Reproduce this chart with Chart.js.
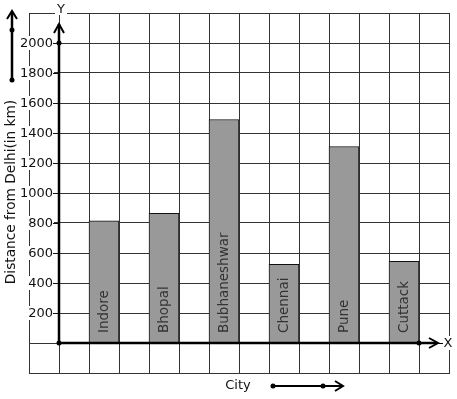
<!DOCTYPE html>
<html>
<head>
<meta charset="utf-8">
<script src="https://cdn.jsdelivr.net/npm/chart.js@4"></script>
<style>
  body { margin: 0; background: #fff; }
  #wrap { width: 457px; height: 399px; }
</style>
</head>
<body>
<div id="wrap"><canvas id="chart" width="457" height="399"></canvas></div>
<script>
const cities = ["Indore", "Bhopal", "Bubhaneshwar", "Chennai", "Pune", "Cuttack"];
const distances = [815, 865, 1490, 525, 1310, 545];
const yTicks = [200, 400, 600, 800, 1000, 1200, 1400, 1600, 1800, 2000];
const yTitle = "Distance from Delhi(in km)";
const xTitle = "City";

// 14 grid columns, a city in every second one starting at column 2
const slots = 14;
const labels = [];
const values = [];
for (let i = 0; i < slots; i++) {
  const k = (i - 2) / 2;
  if (i >= 2 && i % 2 === 0 && k < cities.length) {
    labels.push(cities[k]);
    values.push(distances[k]);
  } else {
    labels.push("");
    values.push(null);
  }
}

const FONT = "13px 'DejaVu Sans'";

function dot(ctx, x, y) {
  ctx.beginPath();
  ctx.arc(x, y, 2.5, 0, Math.PI * 2);
  ctx.fill();
}

// axes, arrows and labels drawn over the grid
const decorPlugin = {
  id: "decor",
  afterDatasetsDraw: (chart) => {
    const ctx = chart.ctx;
    const xs = chart.scales.x;
    const ys = chart.scales.y;
    const ax = Math.round((xs.getPixelForValue(0) + xs.getPixelForValue(1)) / 2);
    const ay = Math.round(ys.getPixelForValue(0));
    const area = chart.chartArea;

    ctx.save();

    // labels inside bars
    ctx.fillStyle = "#333";
    ctx.font = "13.5px 'DejaVu Sans'";
    ctx.textAlign = "left";
    ctx.textBaseline = "middle";
    cities.forEach((c, i) => {
      const x = xs.getPixelForValue(2 + i * 2);
      ctx.save();
      ctx.translate(x, ay - 10);
      ctx.rotate(-Math.PI / 2);
      ctx.fillText(c, 0, 0);
      ctx.restore();
    });

    // y tick labels with white backing
    ctx.font = FONT;
    ctx.textAlign = "right";
    ctx.textBaseline = "middle";
    yTicks.forEach((v) => {
      const y = Math.round(ys.getPixelForValue(v));
      const w = ctx.measureText(String(v)).width;
      ctx.fillStyle = "#fff";
      ctx.fillRect(53 - w - 1, y - 7, w + 2, 14);
      ctx.fillStyle = "#111";
      ctx.fillText(String(v), 53, y + 1);
      ctx.strokeStyle = "#111";
      ctx.lineWidth = 1;
      ctx.beginPath();
      ctx.moveTo(53, y + 0.5);
      ctx.lineTo(ax, y + 0.5);
      ctx.stroke();
    });

    ctx.strokeStyle = "#000";
    ctx.fillStyle = "#000";
    ctx.lineCap = "butt";

    // y axis
    ctx.lineWidth = 2.5;
    ctx.beginPath();
    ctx.moveTo(ax, ay);
    ctx.lineTo(ax, 24);
    ctx.stroke();
    ctx.lineWidth = 2;
    ctx.beginPath();
    ctx.moveTo(ax - 5, 33);
    ctx.lineTo(ax, 24);
    ctx.lineTo(ax + 5, 33);
    ctx.stroke();
    dot(ctx, ax, Math.round(ys.getPixelForValue(2000)));
    dot(ctx, ax, ay);

    // x axis
    ctx.lineWidth = 2.5;
    ctx.beginPath();
    ctx.moveTo(ax, ay);
    ctx.lineTo(437, ay);
    ctx.stroke();
    ctx.lineWidth = 2;
    ctx.beginPath();
    ctx.moveTo(429, ay - 5);
    ctx.lineTo(438, ay);
    ctx.lineTo(429, ay + 5);
    ctx.stroke();
    ctx.lineWidth = 1;
    ctx.beginPath();
    ctx.moveTo(437, ay + 0.5);
    ctx.lineTo(443, ay + 0.5);
    ctx.stroke();
    dot(ctx, Math.round(xs.getPixelForValue(12) + 15), ay);

    // axis letters
    ctx.font = FONT;
    ctx.textAlign = "center";
    ctx.textBaseline = "middle";
    ctx.fillStyle = "#fff";
    ctx.fillRect(55, area.top - 2, 12, 4);
    ctx.fillRect(443, ay - 7, 11, 14);
    ctx.fillStyle = "#111";
    ctx.fillText("Y", 61, 10);
    ctx.fillText("X", 448, ay + 1);

    // y title
    ctx.save();
    ctx.font = "13.7px 'DejaVu Sans'";
    ctx.translate(11, 192);
    ctx.rotate(-Math.PI / 2);
    ctx.textAlign = "center";
    ctx.fillText(yTitle, 0, 0);
    ctx.restore();

    // x title
    ctx.textAlign = "center";
    ctx.textBaseline = "alphabetic";
    ctx.fillText(xTitle, 238, 389);

    // side arrows
    ctx.strokeStyle = "#000";
    ctx.fillStyle = "#000";
    ctx.lineWidth = 2.5;
    ctx.beginPath();
    ctx.moveTo(12, 80);
    ctx.lineTo(12, 12);
    ctx.stroke();
    ctx.lineWidth = 2;
    ctx.beginPath();
    ctx.moveTo(7, 19);
    ctx.lineTo(12, 11);
    ctx.lineTo(17, 19);
    ctx.stroke();
    dot(ctx, 12, 30);
    dot(ctx, 12, 80);

    ctx.lineWidth = 2;
    ctx.beginPath();
    ctx.moveTo(273, 386);
    ctx.lineTo(342, 386);
    ctx.stroke();
    ctx.beginPath();
    ctx.moveTo(335, 381);
    ctx.lineTo(343, 386);
    ctx.lineTo(335, 391);
    ctx.stroke();
    dot(ctx, 273, 386);
    dot(ctx, 323, 386);

    ctx.restore();
  }
};

new Chart(document.getElementById("chart").getContext("2d"), {
  type: "bar",
  data: {
    labels: labels,
    datasets: [{
      label: "Distance",
      data: values,
      backgroundColor: "#999999",
      borderColor: "#111",
      borderWidth: 1,
      categoryPercentage: 1,
      barPercentage: 1
    }]
  },
  options: {
    responsive: false,
    animation: false,
    devicePixelRatio: 1,
    layout: { padding: { left: 29, right: 8, top: 13, bottom: 26 } },
    plugins: {
      legend: { display: false },
      title: { display: false },
      tooltip: { enabled: false }
    },
    scales: {
      x: {
        type: "category",
        offset: true,
        grid: { offset: true, color: "#333", lineWidth: 1, drawTicks: false },
        border: { display: true, color: "#333", width: 1 },
        ticks: { display: false }
      },
      y: {
        min: -200,
        max: 2200,
        ticks: { display: false, stepSize: 200 },
        grid: { color: "#333", lineWidth: 1, drawTicks: false },
        border: { display: true, color: "#333", width: 1 }
      }
    }
  },
  plugins: [decorPlugin]
});
</script>
</body>
</html>
